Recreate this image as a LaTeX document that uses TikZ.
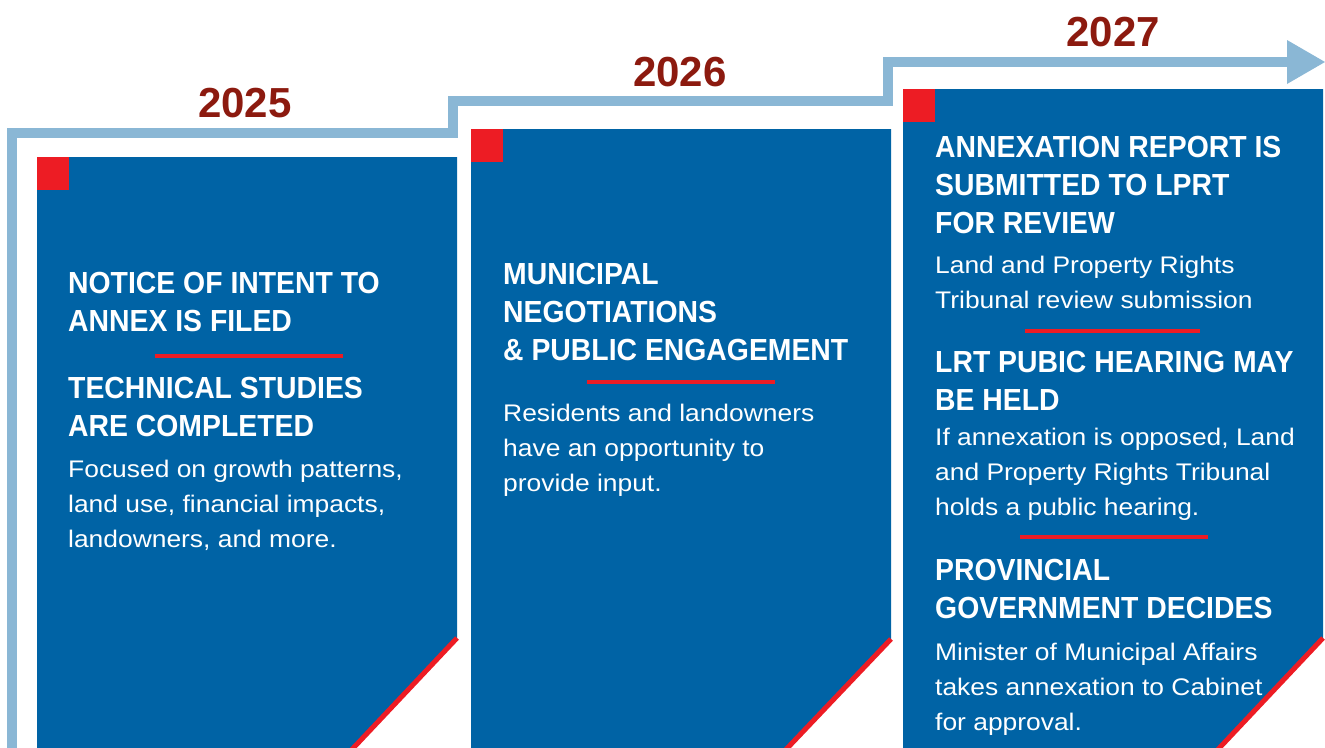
\documentclass[tikz,border=0pt]{standalone}
\usepackage{fontspec}
\setmainfont{Liberation Sans}
\newfontfamily\headfont[FakeStretch=0.93]{Liberation Sans}
\newfontfamily\bodyfont[FakeStretch=1.1]{Liberation Sans}
\usetikzlibrary{positioning, arrows.meta}

\definecolor{panelblue}{HTML}{0063A5}
\definecolor{markred}{HTML}{ED1C24}
\definecolor{pathblue}{HTML}{8AB7D5}
\definecolor{yearred}{HTML}{8C1A0F}

\begin{document}
\begin{tikzpicture}
	[x=1pt, y=-1pt,
	year/.style={font=\bfseries\fontsize{42}{42}\selectfont, text=yearred, inner sep=0},
	heading/.style={font=\headfont\bfseries\fontsize{30.5}{38}\selectfont, text=white, align=left, anchor=north west, inner sep=0},
	body/.style={font=\bodyfont\fontsize{24}{35}\selectfont, text=white, align=left, anchor=north west, inner sep=0},
	rule/.style={markred, line width=4pt},
	panel/.style={fill=panelblue},
	corner/.style={markred, line width=5pt},
	tag/.style={fill=markred}]
	\useasboundingbox (0,0) rectangle (1325,747);
	\clip (0,0) rectangle (1325,747);

	% stepped time line
	\draw [pathblue, line width=10pt, -{Triangle[length=38pt, width=44pt, line width=0pt]}]
		(12,760) -- (12,133) -- (453,133) -- (453,101) -- (888,101) -- (888,62) -- (1325,62);

	% panels with cut corners
	\fill [panel] (37,157) -- (457,157) -- (457,638) -- (342,760) -- (37,760) -- cycle;
	\draw [corner] (457,638) -- (342,760);
	\fill [tag] (37,157) rectangle +(32,33);

	\fill [panel] (471,129) -- (891,129) -- (891,639) -- (776,760) -- (471,760) -- cycle;
	\draw [corner] (891,639) -- (776,760);
	\fill [tag] (471,129) rectangle +(32,33);

	\fill [panel] (903,89) -- (1323,89) -- (1323,638) -- (1208,760) -- (903,760) -- cycle;
	\draw [corner] (1323,638) -- (1208,760);
	\fill [tag] (903,89) rectangle +(32,33);

	% years
	\node (y2025) [year] at (245,103) {2025};
	\node (y2026) [year] at (680,72) {2026};
	\node (y2027) [year] at (1113,32) {2027};

	% 2025
	\node (filed) [heading] at (68,272) {NOTICE OF INTENT TO\\ANNEX IS FILED};
	\draw [rule] (155,356) -- (343,356);
	\node (studies) [heading] at (68,377) {TECHNICAL STUDIES\\ARE COMPLETED};
	\node (studiesnote) [body] at (68,460) {Focused on growth patterns,\\land use, financial impacts,\\landowners, and more.};

	% 2026
	\node (talks) [heading] at (503,263) {MUNICIPAL\\NEGOTIATIONS\\\& PUBLIC ENGAGEMENT};
	\draw [rule] (587,382) -- (775,382);
	\node (talksnote) [body] at (503,404) {Residents and landowners\\have an opportunity to\\provide input.};

	% 2027
	\node (report) [heading] at (935,136) {ANNEXATION REPORT IS\\SUBMITTED TO LPRT\\FOR REVIEW};
	\node (reportnote) [body] at (935,256) {Land and Property Rights\\Tribunal review submission};
	\draw [rule] (1025,331) -- (1200,331);
	\node (hearing) [heading] at (935,351) {LRT PUBIC HEARING MAY\\BE HELD};
	\node (hearingnote) [body] at (935,428) {If annexation is opposed, Land\\and Property Rights Tribunal\\holds a public hearing.};
	\draw [rule] (1020,537) -- (1208,537);
	\node (decision) [heading] at (935,559) {PROVINCIAL\\GOVERNMENT DECIDES};
	\node (decisionnote) [body] at (935,643) {Minister of Municipal Affairs\\takes annexation to Cabinet\\for approval.};
\end{tikzpicture}
\end{document}
